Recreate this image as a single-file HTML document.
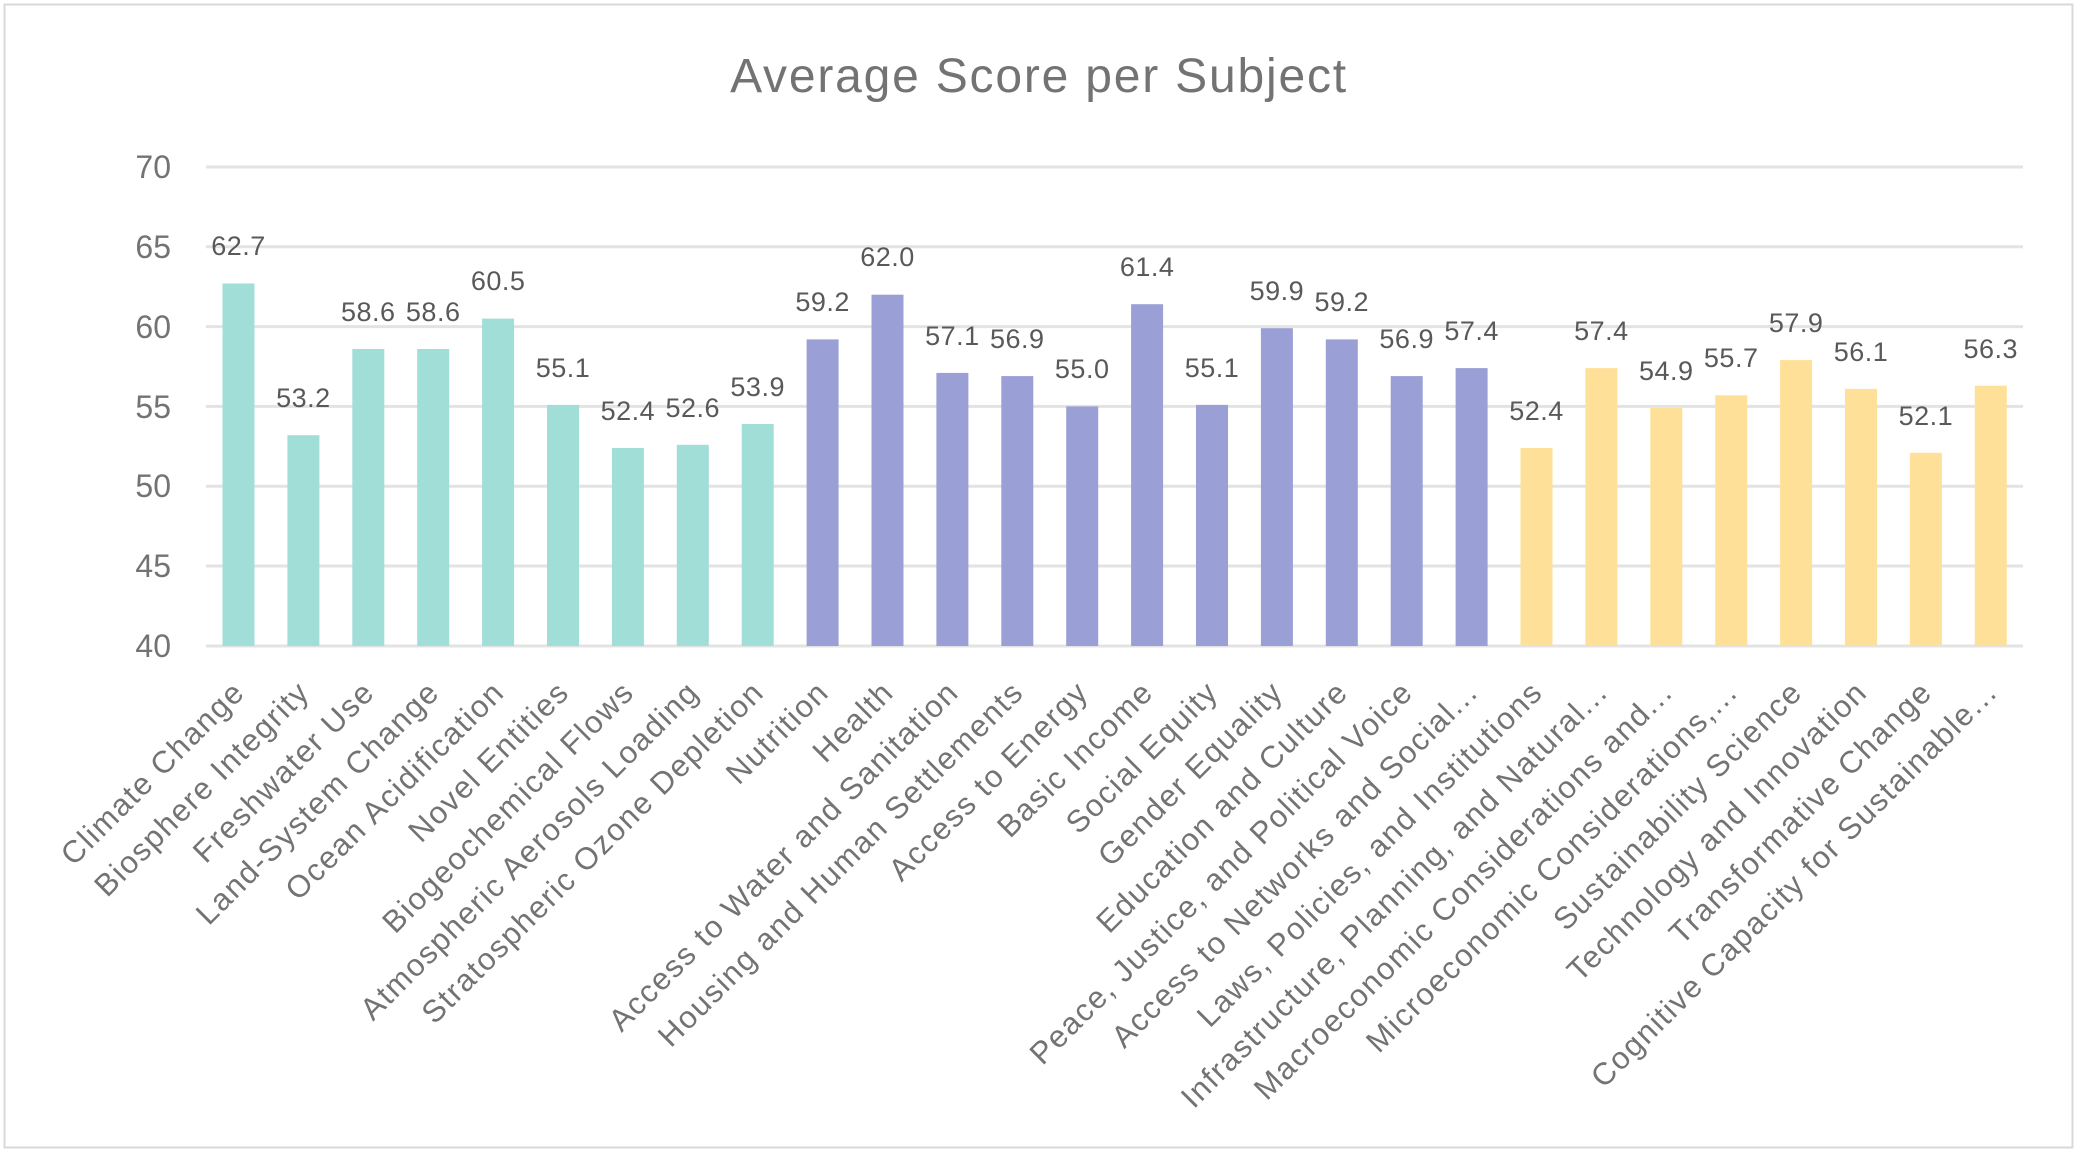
<!DOCTYPE html>
<html><head><style>
html,body{margin:0;padding:0;background:#fff;}
svg{display:block;font-family:"Liberation Sans",sans-serif;}
</style></head><body>
<svg width="2080" height="1155" viewBox="0 0 2080 1155" xmlns="http://www.w3.org/2000/svg">
<rect x="4.5" y="4.5" width="2068" height="1143" fill="#fff" stroke="#d9d9d9" stroke-width="2"/>
<text x="1039" y="92" text-anchor="middle" font-size="48" letter-spacing="1.8" fill="#737373">Average Score per Subject</text>
<g stroke="#e3e3e3" stroke-width="3">
<line x1="206" x2="2023" y1="167" y2="167"/>
<line x1="206" x2="2023" y1="246.8" y2="246.8"/>
<line x1="206" x2="2023" y1="326.6" y2="326.6"/>
<line x1="206" x2="2023" y1="406.4" y2="406.4"/>
<line x1="206" x2="2023" y1="486.2" y2="486.2"/>
<line x1="206" x2="2023" y1="566" y2="566"/>
<line x1="206" x2="2023" y1="646" y2="646"/>
</g>
<g font-size="32" fill="#737373" text-anchor="end">
<text x="171" y="178">70</text><text x="171" y="258">65</text><text x="171" y="338">60</text>
<text x="171" y="418">55</text><text x="171" y="497">50</text><text x="171" y="577">45</text><text x="171" y="657">40</text>
</g>
<g font-size="27" fill="#595959" text-anchor="middle" letter-spacing="0.5">
<g fill="#a2ded8">
<rect x="222.5" y="283.5" width="32" height="362.5"/>
<rect x="287.4" y="435.2" width="32" height="210.8"/>
<rect x="352.3" y="349" width="32" height="297"/>
<rect x="417.2" y="349" width="32" height="297"/>
<rect x="482.1" y="318.6" width="32" height="327.4"/>
<rect x="547" y="404.9" width="32" height="241.1"/>
<rect x="611.9" y="448" width="32" height="198"/>
<rect x="676.8" y="444.8" width="32" height="201.2"/>
<rect x="741.7" y="424" width="32" height="222"/>
</g>
<g fill="#9a9fd5">
<rect x="806.6" y="339.4" width="32" height="306.6"/>
<rect x="871.5" y="294.7" width="32" height="351.3"/>
<rect x="936.4" y="372.9" width="32" height="273.1"/>
<rect x="1001.3" y="376.1" width="32" height="269.9"/>
<rect x="1066.2" y="406.4" width="32" height="239.6"/>
<rect x="1131.1" y="304.2" width="32" height="341.8"/>
<rect x="1196" y="404.9" width="32" height="241.1"/>
<rect x="1260.9" y="328.2" width="32" height="317.8"/>
<rect x="1325.8" y="339.4" width="32" height="306.6"/>
<rect x="1390.7" y="376.1" width="32" height="269.9"/>
<rect x="1455.6" y="368.1" width="32" height="277.9"/>
</g>
<g fill="#ffe099">
<rect x="1520.5" y="448" width="32" height="198"/>
<rect x="1585.4" y="368.1" width="32" height="277.9"/>
<rect x="1650.3" y="408" width="32" height="238"/>
<rect x="1715.2" y="395.3" width="32" height="250.7"/>
<rect x="1780.1" y="360.1" width="32" height="285.9"/>
<rect x="1845" y="388.9" width="32" height="257.1"/>
<rect x="1909.9" y="452.8" width="32" height="193.2"/>
<rect x="1974.8" y="385.7" width="32" height="260.3"/>
</g>
<text x="238.5" y="255">62.7</text>
<text x="303.4" y="407">53.2</text>
<text x="368.3" y="321">58.6</text>
<text x="433.2" y="321">58.6</text>
<text x="498.1" y="290">60.5</text>
<text x="563" y="377">55.1</text>
<text x="627.9" y="420">52.4</text>
<text x="692.8" y="417">52.6</text>
<text x="757.7" y="396">53.9</text>
<text x="822.6" y="311">59.2</text>
<text x="887.5" y="266">62.0</text>
<text x="952.4" y="345">57.1</text>
<text x="1017.3" y="348">56.9</text>
<text x="1082.2" y="378">55.0</text>
<text x="1147.1" y="276">61.4</text>
<text x="1212" y="377">55.1</text>
<text x="1276.9" y="300">59.9</text>
<text x="1341.8" y="311">59.2</text>
<text x="1406.7" y="348">56.9</text>
<text x="1471.6" y="340">57.4</text>
<text x="1536.5" y="420">52.4</text>
<text x="1601.4" y="340">57.4</text>
<text x="1666.3" y="380">54.9</text>
<text x="1731.2" y="367">55.7</text>
<text x="1796.1" y="332">57.9</text>
<text x="1861" y="361">56.1</text>
<text x="1925.9" y="425">52.1</text>
<text x="1990.8" y="358">56.3</text>
</g>
<g font-size="31" fill="#737373" text-anchor="end" letter-spacing="1.6">
<text transform="translate(246.5,694) rotate(-45)">Climate Change</text>
<text transform="translate(311.4,694) rotate(-45)">Biosphere Integrity</text>
<text transform="translate(376.3,694) rotate(-45)">Freshwater Use</text>
<text transform="translate(441.2,694) rotate(-45)">Land-System Change</text>
<text transform="translate(506.1,694) rotate(-45)">Ocean Acidification</text>
<text transform="translate(571,694) rotate(-45)">Novel Entities</text>
<text transform="translate(635.9,694) rotate(-45)">Biogeochemical Flows</text>
<text transform="translate(700.8,694) rotate(-45)">Atmospheric Aerosols Loading</text>
<text transform="translate(765.7,694) rotate(-45)">Stratospheric Ozone Depletion</text>
<text transform="translate(830.6,694) rotate(-45)">Nutrition</text>
<text transform="translate(895.5,694) rotate(-45)">Health</text>
<text transform="translate(960.4,694) rotate(-45)">Access to Water and Sanitation</text>
<text transform="translate(1025.3,694) rotate(-45)">Housing and Human Settlements</text>
<text transform="translate(1090.2,694) rotate(-45)">Access to Energy</text>
<text transform="translate(1155.1,694) rotate(-45)">Basic Income</text>
<text transform="translate(1220,694) rotate(-45)">Social Equity</text>
<text transform="translate(1284.9,694) rotate(-45)">Gender Equality</text>
<text transform="translate(1349.8,694) rotate(-45)">Education and Culture</text>
<text transform="translate(1414.7,694) rotate(-45)">Peace, Justice, and Political Voice</text>
<text transform="translate(1479.6,694) rotate(-45)">Access to Networks and Social...</text>
<text transform="translate(1544.5,694) rotate(-45)">Laws, Policies, and Institutions</text>
<text transform="translate(1609.4,694) rotate(-45)">Infrastructure, Planning, and Natural...</text>
<text transform="translate(1674.3,694) rotate(-45)">Macroeconomic Considerations and...</text>
<text transform="translate(1739.2,694) rotate(-45)">Microeconomic Considerations,...</text>
<text transform="translate(1804.1,694) rotate(-45)">Sustainability Science</text>
<text transform="translate(1869,694) rotate(-45)">Technology and Innovation</text>
<text transform="translate(1933.9,694) rotate(-45)">Transformative Change</text>
<text transform="translate(1998.8,694) rotate(-45)">Cognitive Capacity for Sustainable...</text>
</g>
</svg>
</body></html>
